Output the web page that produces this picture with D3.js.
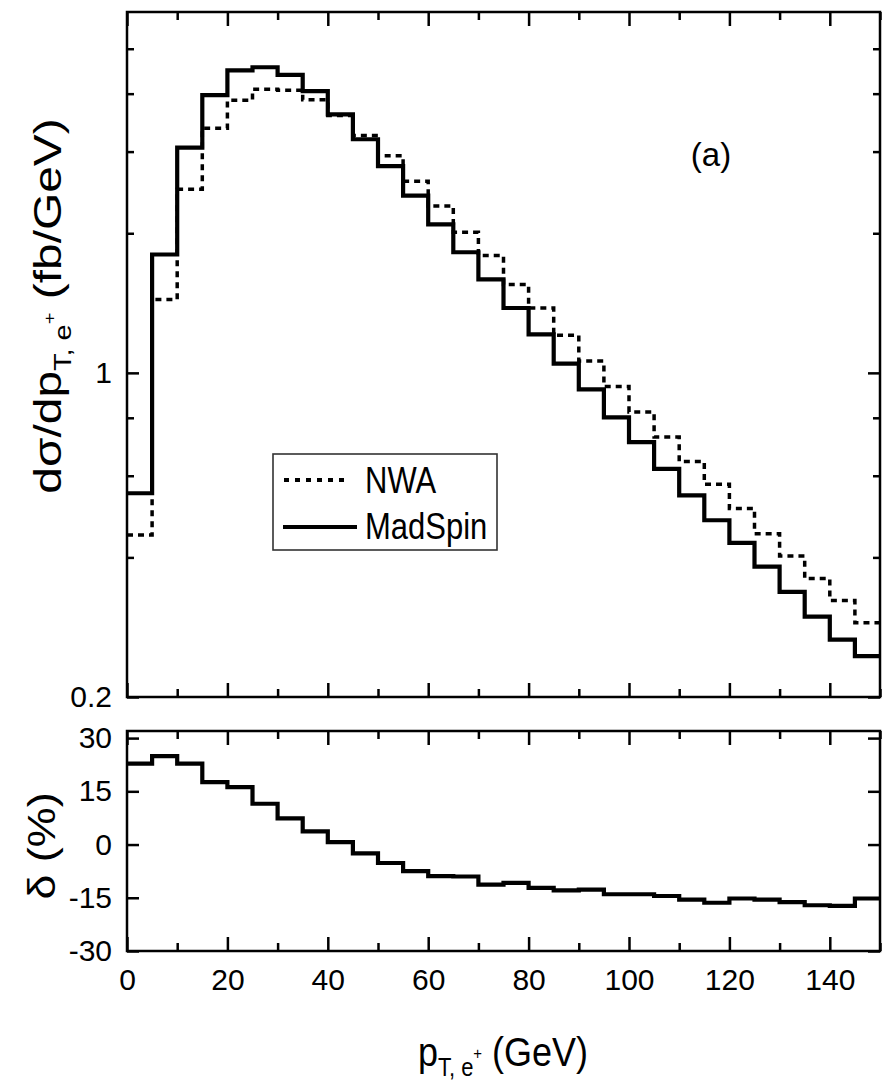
<!DOCTYPE html>
<html>
<head>
<meta charset="utf-8">
<script src="https://cdn.jsdelivr.net/npm/d3@7"></script>
<style>
  html, body { margin: 0; padding: 0; background: #fff; }
  svg { display: block; }
  text { font-family: "Liberation Sans", Arial, Helvetica, sans-serif; fill: #000; }
</style>
</head>
<body>
<svg id="chart" width="885" height="1088"></svg>
<script>
// ---------------- DATA ----------------
const binEdges = [0,5,10,15,20,25,30,35,40,45,50,55,60,65,70,75,80,85,90,95,100,105,110,115,120,125,130,135,140,145,150];
const madSpin = [0.55,1.80,3.06,3.97,4.49,4.56,4.39,4.05,3.61,3.19,2.79,2.41,2.09,1.82,1.59,1.38,1.21,1.047,0.921,0.802,0.709,0.621,0.544,0.481,0.430,0.382,0.337,0.298,0.266,0.245];
const nwa = [0.447,1.44,2.49,3.37,3.87,4.09,4.07,3.88,3.59,3.25,2.94,2.59,2.29,2.01,1.79,1.55,1.38,1.205,1.06,0.934,0.823,0.727,0.644,0.575,0.510,0.450,0.403,0.360,0.323,0.289];
const delta = [22.8,24.9,22.8,17.6,16.2,11.5,7.4,3.7,0.7,-2.5,-5.2,-7.5,-8.9,-9.0,-11.3,-10.8,-12.2,-12.9,-12.7,-14.0,-14.0,-14.5,-15.5,-16.4,-15.2,-15.5,-16.2,-17.1,-17.3,-15.2];
const xMajorTicks = [0,20,40,60,80,100,120,140];
const xMinorTicks = [10,30,50,70,90,110,130,150];
const yTopMajorTicks = [0.2,1];
const yTopMinorTicks = [0.4,0.6,0.8,2,3,4,5];
const yTopTickLabels = ["0.2","1"];
const yBotTicks = [-30,-15,0,15,30];
const yBotTickLabels = ["-30","-15","0","15","30"];
const legendLabels = ["NWA","MadSpin"];

// ---------------- LAYOUT ----------------
const svg = d3.select("#chart");
const X0 = 127, X1 = 880;
const T0 = 12, T1 = 697;   // top panel
const B0 = 731, B1 = 951;  // bottom panel

const x = d3.scaleLinear().domain([0,150]).range([X0,X1]);
const yTop = d3.scaleLog().domain([0.2,6]).range([T1,T0]);
const yBot = d3.scaleLinear().domain([-30,32]).range([B1,B0]);

const FW = 2.5;

svg.append("clipPath").attr("id","clipTop").append("rect")
  .attr("x",X0).attr("y",T0).attr("width",X1-X0).attr("height",T1-T0);
svg.append("clipPath").attr("id","clipBot").append("rect")
  .attr("x",X0).attr("y",B0).attr("width",X1-X0).attr("height",B1-B0);

function stepPoints(vals){
  const pts = vals.map((v,i)=>[binEdges[i], v]);
  pts.push([binEdges[binEdges.length-1], vals[vals.length-1]]);
  return pts;
}

// histograms
const lineTop = d3.line().x(d=>x(d[0])).y(d=>yTop(d[1])).curve(d3.curveStepAfter);
const lineBot = d3.line().x(d=>x(d[0])).y(d=>yBot(d[1])).curve(d3.curveStepAfter);

const gTop = svg.append("g").attr("clip-path","url(#clipTop)");
gTop.append("path").attr("d", lineTop(stepPoints(nwa)))
  .attr("fill","none").attr("stroke","#000").attr("stroke-width",3.5)
  .attr("stroke-dasharray","6 5");
gTop.append("path").attr("d", lineTop(stepPoints(madSpin)))
  .attr("fill","none").attr("stroke","#000").attr("stroke-width",4.2);

const gBot = svg.append("g").attr("clip-path","url(#clipBot)");
gBot.append("path").attr("d", lineBot(stepPoints(delta)))
  .attr("fill","none").attr("stroke","#000").attr("stroke-width",4.2);

// ---------------- AXES ----------------
function styleAxis(g, labels){
  g.select(".domain").remove();
  g.selectAll(".tick line").attr("stroke","#000").attr("stroke-width",FW);
  if(!labels) g.selectAll(".tick text").remove();
  else g.selectAll(".tick text").attr("font-size",30).attr("fill","#000")
        .attr("font-family",'"Liberation Sans", Arial, sans-serif');
}

// Top panel
styleAxis(svg.append("g").attr("transform",`translate(${X0},0)`)
  .call(d3.axisLeft(yTop).tickValues(yTopMajorTicks).tickSize(-12).tickPadding(15)
        .tickFormat((d,i)=>yTopTickLabels[i])), true);
styleAxis(svg.append("g").attr("transform",`translate(${X0},0)`)
  .call(d3.axisLeft(yTop).tickValues(yTopMinorTicks).tickSize(-7)), false);
styleAxis(svg.append("g").attr("transform",`translate(${X1},0)`)
  .call(d3.axisRight(yTop).tickValues(yTopMajorTicks).tickSize(-12)), false);
styleAxis(svg.append("g").attr("transform",`translate(${X1},0)`)
  .call(d3.axisRight(yTop).tickValues(yTopMinorTicks).tickSize(-7)), false);
[[T0,"top"],[T1,"bottom"],[B0,"top"],[B1,"bottom"]].forEach(([yy,side])=>{
  const mk = side==="top" ? d3.axisTop : d3.axisBottom;
  styleAxis(svg.append("g").attr("transform",`translate(0,${yy})`)
    .call(mk(x).tickValues(xMajorTicks).tickSize(-14)), false);
  styleAxis(svg.append("g").attr("transform",`translate(0,${yy})`)
    .call(mk(x).tickValues(xMinorTicks).tickSize(-8)), false);
});
// bottom x labels
const xl = svg.append("g").attr("transform",`translate(0,${B1})`)
  .call(d3.axisBottom(x).tickValues(xMajorTicks).tickSize(0).tickPadding(18).tickFormat(d=>String(d)));
xl.select(".domain").remove();
xl.selectAll(".tick line").remove();
xl.selectAll(".tick text").attr("font-size",30).attr("fill","#000")
  .attr("font-family",'"Liberation Sans", Arial, sans-serif');

// Bottom panel y
styleAxis(svg.append("g").attr("transform",`translate(${X0},0)`)
  .call(d3.axisLeft(yBot).tickValues(yBotTicks).tickSize(-12).tickPadding(15)
        .tickFormat((d,i)=>yBotTickLabels[i])), true);
styleAxis(svg.append("g").attr("transform",`translate(${X1},0)`)
  .call(d3.axisRight(yBot).tickValues(yBotTicks).tickSize(-12)), false);

// frames
[[T0,T1],[B0,B1]].forEach(([a,b])=>{
  svg.append("rect").attr("x",X0).attr("y",a).attr("width",X1-X0).attr("height",b-a)
    .attr("fill","none").attr("stroke","#000").attr("stroke-width",FW);
});

// ---------------- LEGEND ----------------
const lg = svg.append("g");
lg.append("rect").attr("x",273).attr("y",454).attr("width",224).attr("height",96)
  .attr("fill","#fff").attr("stroke","#333").attr("stroke-width",1.6);
lg.append("line").attr("x1",284).attr("x2",350).attr("y1",480).attr("y2",480)
  .attr("stroke","#000").attr("stroke-width",4).attr("stroke-dasharray","5 6");
lg.append("line").attr("x1",283).attr("x2",357).attr("y1",527).attr("y2",527)
  .attr("stroke","#000").attr("stroke-width",4.2);
lg.append("text").attr("transform","translate(365,493) scale(1,1.2)")
  .attr("font-size",31).text(legendLabels[0]);
lg.append("text").attr("transform","translate(365,539) scale(1,1.2)")
  .attr("font-size",31).text(legendLabels[1]);

// panel label
svg.append("text").attr("x",711).attr("y",166).attr("text-anchor","middle")
  .attr("font-size",33).text("(a)");

// ---------------- AXIS TITLES ----------------
const xt = svg.append("text").attr("transform","translate(503,1066) scale(1,1.15)")
  .attr("text-anchor","middle").attr("font-size",36);
xt.append("tspan").text("p");
xt.append("tspan").attr("font-size",22).attr("dy",9).text("T, e");
xt.append("tspan").attr("font-size",15).attr("dy",-15).text("+");
xt.append("tspan").attr("font-size",36).attr("dy",6).text(" (GeV)");

const yt = svg.append("text").attr("transform","translate(61,306) rotate(-90) scale(1.26,1)")
  .attr("text-anchor","middle").attr("font-size",38);
yt.append("tspan").text("dσ/dp");
yt.append("tspan").attr("font-size",23).attr("dy",10).text("T, e");
yt.append("tspan").attr("font-size",16).attr("dy",-16).text("+");
yt.append("tspan").attr("font-size",38).attr("dy",6).text(" (fb/GeV)");

svg.append("text").attr("transform","translate(55,846) rotate(-90) scale(1.18,1)")
  .attr("text-anchor","middle").attr("font-size",38).text("δ (%)");
</script>
</body>
</html>
